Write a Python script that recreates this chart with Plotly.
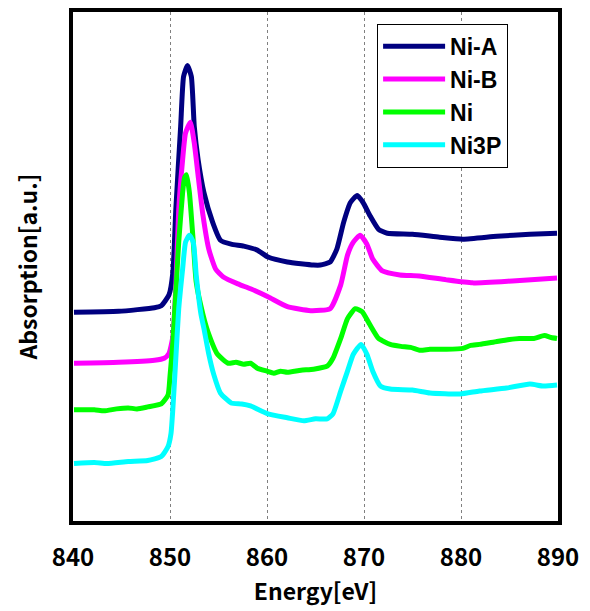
import plotly.graph_objects as go

# Energy [eV] and absorption [a.u.]
niA_x = [840.1, 844.7, 848.4, 849.1, 849.9, 850.3, 850.6, 851.1, 851.4, 851.8, 852.2, 852.5, 852.9,
         853.5, 854.4, 855.2, 856.3, 857.6, 859.0, 860.1, 862.1, 864.8, 865.5, 866.5, 867.2, 867.9,
         868.6, 869.3, 869.9, 870.6, 871.5, 872.4, 875.0, 877.8, 880.2, 883.7, 887.1, 889.9]
niA_y = [2.123, 2.133, 2.17, 2.19, 2.30, 2.53, 3.16, 4.00, 4.50, 4.61, 4.50, 4.00, 3.66,
         3.33, 3.03, 2.85, 2.81, 2.79, 2.75, 2.68, 2.63, 2.60, 2.60, 2.63, 2.76, 3.03,
         3.23, 3.30, 3.23, 3.10, 2.96, 2.92, 2.91, 2.88, 2.86, 2.89, 2.91, 2.92]

niB_x = [840.1, 844.7, 848.4, 849.4, 849.9, 850.3, 850.6, 850.9, 851.3, 851.6, 852.1, 852.5, 852.9,
         853.4, 854.0, 854.7, 855.5, 857.0, 858.3, 860.1, 862.1, 864.5, 866.5, 867.6, 868.3, 868.9,
         869.6, 870.3, 870.9, 871.9, 873.7, 875.7, 878.5, 881.2, 885.3, 889.9]
niB_y = [1.61, 1.62, 1.64, 1.66, 1.71, 1.88, 2.38, 3.16, 3.66, 3.93, 4.04, 3.83, 3.50,
         3.10, 2.76, 2.56, 2.48, 2.41, 2.36, 2.28, 2.18, 2.14, 2.16, 2.40, 2.70, 2.83,
         2.90, 2.81, 2.66, 2.54, 2.50, 2.49, 2.45, 2.42, 2.44, 2.47]

ni_x = [840.1, 842.2, 843.2, 844.5, 845.7, 846.6, 847.7, 849.1, 849.8, 850.0, 850.3, 850.6, 850.9,
        851.3, 851.5, 851.7, 852.0, 852.4, 852.7, 853.4, 853.9, 854.9, 856.0, 856.8, 857.6, 858.3,
        859.0, 860.0, 860.7, 861.4, 862.1, 863.5, 864.8, 866.2, 866.8, 867.6, 868.3, 869.1, 869.8,
        870.6, 871.5, 872.7, 873.8, 874.8, 875.8, 876.8, 878.5, 880.2, 881.0, 881.9, 883.7, 885.0,
        886.0, 887.5, 888.6, 889.3, 889.9]
ni_y = [1.14, 1.14, 1.13, 1.15, 1.16, 1.15, 1.17, 1.20, 1.29, 1.48, 1.83, 2.33, 2.83,
        3.33, 3.48, 3.51, 3.33, 2.83, 2.43, 2.10, 1.93, 1.70, 1.61, 1.62, 1.60, 1.61,
        1.56, 1.53, 1.51, 1.53, 1.52, 1.54, 1.55, 1.58, 1.66, 1.86, 2.06, 2.16, 2.13,
        2.00, 1.86, 1.80, 1.78, 1.77, 1.74, 1.75, 1.75, 1.76, 1.79, 1.80, 1.83, 1.85,
        1.86, 1.86, 1.89, 1.87, 1.86]

ni3p_x = [840.1, 842.2, 843.5, 845.7, 847.7, 849.1, 849.8, 850.1, 850.3, 850.6, 850.9, 851.3, 851.6,
          852.0, 852.4, 852.7, 853.2, 853.5, 854.0, 854.5, 855.2, 856.3, 857.4, 858.3, 860.1, 862.1,
          863.8, 865.0, 866.2, 866.8, 867.6, 868.3, 868.9, 869.7, 870.3, 870.9, 871.7, 872.7, 875.0,
          876.8, 879.9, 881.9, 884.7, 887.1, 888.5, 889.9]
ni3p_y = [0.60, 0.61, 0.60, 0.62, 0.63, 0.67, 0.77, 0.90, 1.16, 1.66, 2.16, 2.56, 2.83,
          2.90, 2.83, 2.50, 2.10, 1.96, 1.70, 1.50, 1.31, 1.21, 1.20, 1.18, 1.10, 1.06,
          1.03, 1.05, 1.05, 1.10, 1.33, 1.53, 1.70, 1.80, 1.70, 1.53, 1.38, 1.35, 1.34,
          1.31, 1.30, 1.33, 1.36, 1.40, 1.38, 1.39]

series = [
    ("Ni-A", niA_x, niA_y, "#000080"),
    ("Ni-B", niB_x, niB_y, "#FF00FF"),
    ("Ni", ni_x, ni_y, "#00FF00"),
    ("Ni3P", ni3p_x, ni3p_y, "#00FFFF"),
]

x_ticks = [840, 850, 860, 870, 880, 890]

FONT = "Noto Sans CJK JP"
LEG_FONT = "Liberation Sans"

fig = go.Figure()
for name, xs, ys, col in series:
    fig.add_trace(go.Scatter(x=xs, y=ys, name=name, mode="lines",
                             line=dict(color=col, width=5, shape="spline", smoothing=0.5)))

fig.update_layout(
    width=590, height=611,
    margin=dict(l=73, r=32, t=8, b=90),
    paper_bgcolor="white", plot_bgcolor="white",
    font=dict(family=FONT, size=22, color="black"),
    showlegend=True,
    legend=dict(x=0.627, y=0.977, xanchor="left", yanchor="top",
                bgcolor="white", bordercolor="black", borderwidth=1,
                font=dict(family=LEG_FONT, size=23, color="black", weight="bold"),
                itemwidth=62, tracegroupgap=0),
    xaxis=dict(range=[840, 890], tickvals=x_ticks, ticktext=[str(v) for v in x_ticks],
               showgrid=True, gridcolor="#808080", gridwidth=1, griddash="dot",
               showline=True, linecolor="black", linewidth=4, mirror=True,
               ticks="", zeroline=False, ticklabelstandoff=12,
               tickfont=dict(family=FONT, size=24, color="black", weight="bold"),
               title=dict(text="Energy[eV]", standoff=7,
                          font=dict(family=FONT, size=23, color="black", weight="bold"))),
    yaxis=dict(range=[0.02, 5.15], showticklabels=False, showgrid=False,
               showline=True, linecolor="black", linewidth=4, mirror=True,
               ticks="", zeroline=False,
               title=dict(text="Absorption[a.u.]", standoff=26,
                          font=dict(family=FONT, size=23, color="black", weight="bold"))),
)

fig.write_html("out.html")
